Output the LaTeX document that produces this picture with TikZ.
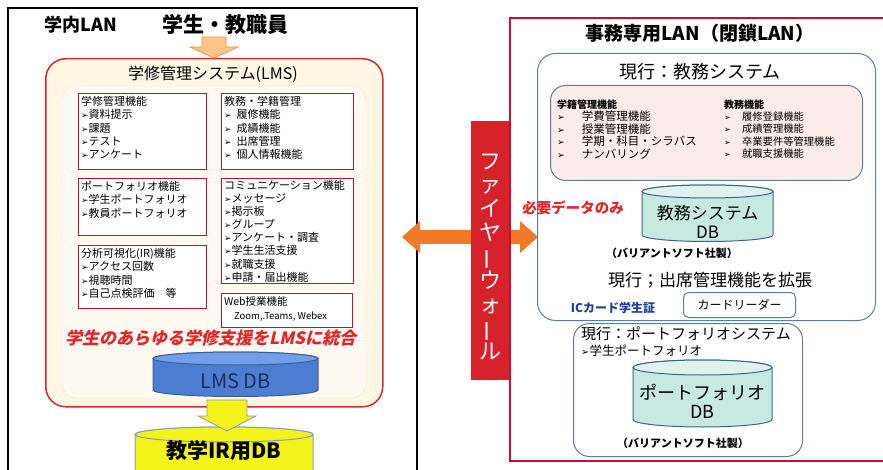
\documentclass[tikz,border=0pt]{standalone}
\usepackage{fontspec}
\setmainfont{Noto Sans CJK JP}
\newfontfamily\dvs{DejaVu Sans}
\newcommand\arw{{\dvs\scalebox{0.8}{➢}}}
\newcommand\fsz[2]{\fontsize{#1}{#2}\selectfont}
\newcommand\vbar{\rotatebox[origin=c]{90}{ー}}
\definecolor{lmsred}{HTML}{D22B2B}
\definecolor{cream}{HTML}{FFF6E4}
\definecolor{panel}{HTML}{FFFAF1}
\definecolor{paneledge}{HTML}{F0E4CF}
\definecolor{boxred}{HTML}{C8102E}
\definecolor{fwred}{HTML}{D7222B}
\definecolor{orng}{HTML}{F07A28}
\definecolor{lorng}{HTML}{FBC58A}
\definecolor{lorngd}{HTML}{E89A4A}
\definecolor{dbblue}{HTML}{4D7DD2}
\definecolor{dbbluetop}{HTML}{739FE6}
\definecolor{dbedge}{HTML}{3A5E9E}
\definecolor{ylw}{HTML}{F4F41A}
\definecolor{ylwedge}{HTML}{8A9AC0}
\definecolor{aqua}{HTML}{C6EADF}
\definecolor{aquatop}{HTML}{DDF3EC}
\definecolor{aquaedge}{HTML}{3F6488}
\definecolor{bluebox}{HTML}{5B7BAA}
\definecolor{pinkfill}{HTML}{FCECE9}
\definecolor{icblue}{HTML}{1F3FA0}
\definecolor{txtred}{HTML}{E5242A}
\definecolor{dbtxt}{HTML}{1E2D5A}
% cylinder: L R ytop ybot rx ry bodyfill topfill edge
\newcommand\dbcyl[9]{%
  \filldraw[fill=#7, draw=#9, line width=1pt] (#1,#3) -- (#1,#4)
    arc[start angle=180, end angle=360, x radius=#5pt, y radius=#6pt] -- (#2,#3)
    arc[start angle=0, end angle=180, x radius=#5pt, y radius=#6pt] -- cycle;
  \filldraw[fill=#8, draw=#9, line width=1pt] ({(#1+#2)/2},#3) ellipse[x radius=#5pt, y radius=#6pt];
}
\tikzset{
  rbox/.style={draw=boxred, line width=1.3pt, fill=white, anchor=north west, inner sep=0pt},
  subtxt/.style={anchor=north west, inner sep=0pt, align=left, font=\fsz{11}{13.3}},
  bbox/.style={draw=bluebox, line width=1pt, fill=white, anchor=north west, inner sep=0pt},
}
\begin{document}
\begin{tikzpicture}[x=1pt,y=-1pt]
\useasboundingbox (0,0) rectangle (883,470);
\clip (0,0) rectangle (883,470);
\fill[white] (0,0) rectangle (883,470);

% ---------------- left side ----------------
\draw[black, line width=1.3pt] (8,480) -- (8,8) -- (417,8) -- (417,480);
\node[font=\bfseries\fsz{18}{20}] (lanL) at (81,25) {学内LAN};
\node[font=\bfseries\fsz{21}{24}] (users) at (225,25) {学生・教職員};

% LMS box
\node[draw=lmsred, line width=1.5pt, fill=cream, rounded corners=20pt, minimum width=337pt, minimum height=348pt, anchor=north west, inner sep=0pt] (lms) at (45,58) {};
\draw[paneledge, fill=panel, rounded corners=14pt] (62,86) rectangle (366,398);
\node[font=\fsz{16}{18}] (lmstitle) at (213,74) {学修管理システム(LMS)};

% top arrow users -> LMS
\filldraw[fill=lorng, draw=lorngd, line width=0.8pt] (202,37) -- (226,37) -- (226,47) -- (238,47) -- (214,58) -- (190,47) -- (202,47) -- cycle;

% sub boxes
\node[rbox, minimum width=128pt, minimum height=76pt] (b1) at (78,93) {};
\node[subtxt] (b1t) at (81,96) {学修管理機能\\\arw 資料提示\\\arw 課題\\\arw テスト\\\arw アンケート};

\node[rbox, minimum width=132pt, minimum height=76pt] (b2) at (221,93) {};
\node[subtxt] (b2t) at (224,96) {教務・学籍管理\\\arw\ \ 履修機能\\\arw\ \ 成績機能\\\arw\ \ 出席管理\\\arw\ \ 個人情報機能};

\node[rbox, minimum width=128pt, minimum height=57pt] (b3) at (78,178) {};
\node[subtxt] (b3t) at (81,181) {ポートフォリオ機能\\\arw 学生ポートフォリオ\\\arw 教員ポートフォリオ};

\node[rbox, minimum width=128pt, minimum height=63pt] (b4) at (78,245) {};
\node[subtxt] (b4t) at (81,248) {分析可視化(IR)機能\\\arw アクセス回数\\\arw 視聴時間\\\arw 自己点検評価　等};

\node[rbox, minimum width=132pt, minimum height=105pt] (b5) at (221,178) {};
\node[subtxt, font=\fsz{11}{13.1}] (b5t) at (224,180) {コミュニケーション機能\\\arw メッセージ\\\arw 掲示板\\\arw グループ\\\arw アンケート・調査\\\arw 学生生活支援\\\arw 就職支援\\\arw 申請・届出機能};

\node[rbox, minimum width=131pt, minimum height=34pt] (b6) at (221,293) {};
\node[subtxt, font=\fsz{10.5}{14}] (b6t) at (224,296) {Web授業機能\\\hspace*{10pt}{\fsz{9.5}{14}Zoom,.Teams, Webex}};

\begin{scope}[shift={(212,338)}]
\node[text=txtred, font=\bfseries\fsz{17}{19}, xslant=0.22, transform shape] (slogan) at (0,0) {学生のあらゆる学修支援をLMSに統合};
\end{scope}

% LMS DB
\dbcyl{153}{318}{358.5}{390}{82.5}{6.5}{dbblue}{dbbluetop}{dbedge}
\node[text=dbtxt, font=\fsz{20}{22}] (lmsdb) at (235.5,381) {LMS DB};

% yellow arrow + IR DB
\dbcyl{135}{313}{434.5}{480}{89}{7.5}{ylw}{ylw}{ylwedge}
\filldraw[fill=ylw, draw=ylwedge, line width=0.8pt] (207,400) -- (247,400) -- (247,416) -- (256,416) -- (227,431) -- (198,416) -- (207,416) -- cycle;
\node[font=\bfseries\fsz{21}{23}] (irdb) at (224,451) {教学IR用DB};

% ---------------- firewall ----------------
\fill[orng] (402,237) -- (420,221) -- (420,230) -- (520,230) -- (520,221) -- (538,237) -- (520,253) -- (520,244) -- (420,244) -- (420,253) -- cycle;
\node[fill=fwred, minimum width=39pt, minimum height=259pt, inner sep=0pt, anchor=north west] (fw) at (471,121) {};
\node[text=white, font=\fsz{22}{23.7}, align=center, inner sep=0pt] (fwt) at (490.5,257) {フ\\ァ\\イ\\ヤ\\\vbar\\ウ\\ォ\\\vbar\\ル};

% ---------------- right side ----------------
\draw[boxred, line width=1.3pt] (890,18) -- (510,18) -- (510,461) -- (890,461);
\node[font=\bfseries\fsz{19}{21}] (lanR) at (700,33) {事務専用LAN（閉鎖LAN）};

\node[bbox, rounded corners=18pt, minimum width=338pt, minimum height=267pt] (kyomu) at (537,53) {};
\node[font=\fsz{18}{20}] (kyomut) at (700,72) {現行：教務システム};

\node[bbox, fill=pinkfill, rounded corners=15pt, minimum width=312pt, minimum height=95pt] (inner) at (550,85) {};
\node[anchor=west, inner sep=0pt, font=\bfseries\fsz{10}{12}] (gsk) at (557,105) {学籍管理機能};
\node[subtxt, font=\fsz{11.5}{12.4}] (gski) at (557,111) {\arw\hspace{17pt}学費管理機能\\\arw\hspace{17pt}授業管理機能\\\arw\hspace{17pt}学期・科目・シラバス\\\arw\hspace{17pt}ナンバリング};
\node[anchor=west, inner sep=0pt, font=\bfseries\fsz{10}{12}] (kmk) at (724,105) {教務機能};
\node[subtxt, font=\fsz{10.3}{12.4}] (kmki) at (724,111.5) {\arw\hspace{11pt}履修登録機能\\\arw\hspace{11pt}成績管理機能\\\arw\hspace{11pt}卒業要件等管理機能\\\arw\hspace{11pt}就職支援機能};

\dbcyl{642}{773}{191.5}{235}{65.5}{6.5}{aqua}{aquatop}{aquaedge}
\node[font=\fsz{17}{19}, align=center] (kdb) at (707.5,222) {教務システム\\DB};
\node[text=txtred, font=\bfseries\fsz{14.5}{16}] (need) at (573,208) {必要データのみ};
\node[font=\bfseries\fsz{11}{13}] (vs1) at (672,253) {（バリアントソフト社製）};
\node[font=\fsz{17}{19}] (att) at (710,280) {現行；出席管理機能を拡張};
\node[text=icblue, font=\bfseries\fsz{12}{14}] (ic) at (613,308) {ICカード学生証};
\node[bbox, rounded corners=5pt, minimum width=112pt, minimum height=25pt] (reader) at (683,292) {};
\node[font=\fsz{12}{14}] (readert) at (reader.center) {カードリーダー};

\node[bbox, rounded corners=16pt, minimum width=229pt, minimum height=133pt] (pf) at (573,323) {};
\node[anchor=west, inner sep=0pt, font=\fsz{15}{17}] (pft) at (581,334) {現行：ポートフォリオシステム};
\node[anchor=west, inner sep=0pt, font=\fsz{12.5}{14}] (pfi) at (581,351) {\arw 学生ポートフォリオ};
\dbcyl{633}{772}{367.5}{419.5}{69.5}{7.5}{aqua}{aquatop}{aquaedge}
\node[font=\fsz{18}{19}, align=center] (pfdb) at (702.5,401) {ポートフォリオ\\DB};
\node[font=\bfseries\fsz{11}{13}] (vs2) at (683,443) {（バリアントソフト社製）};
\end{tikzpicture}
\end{document}
